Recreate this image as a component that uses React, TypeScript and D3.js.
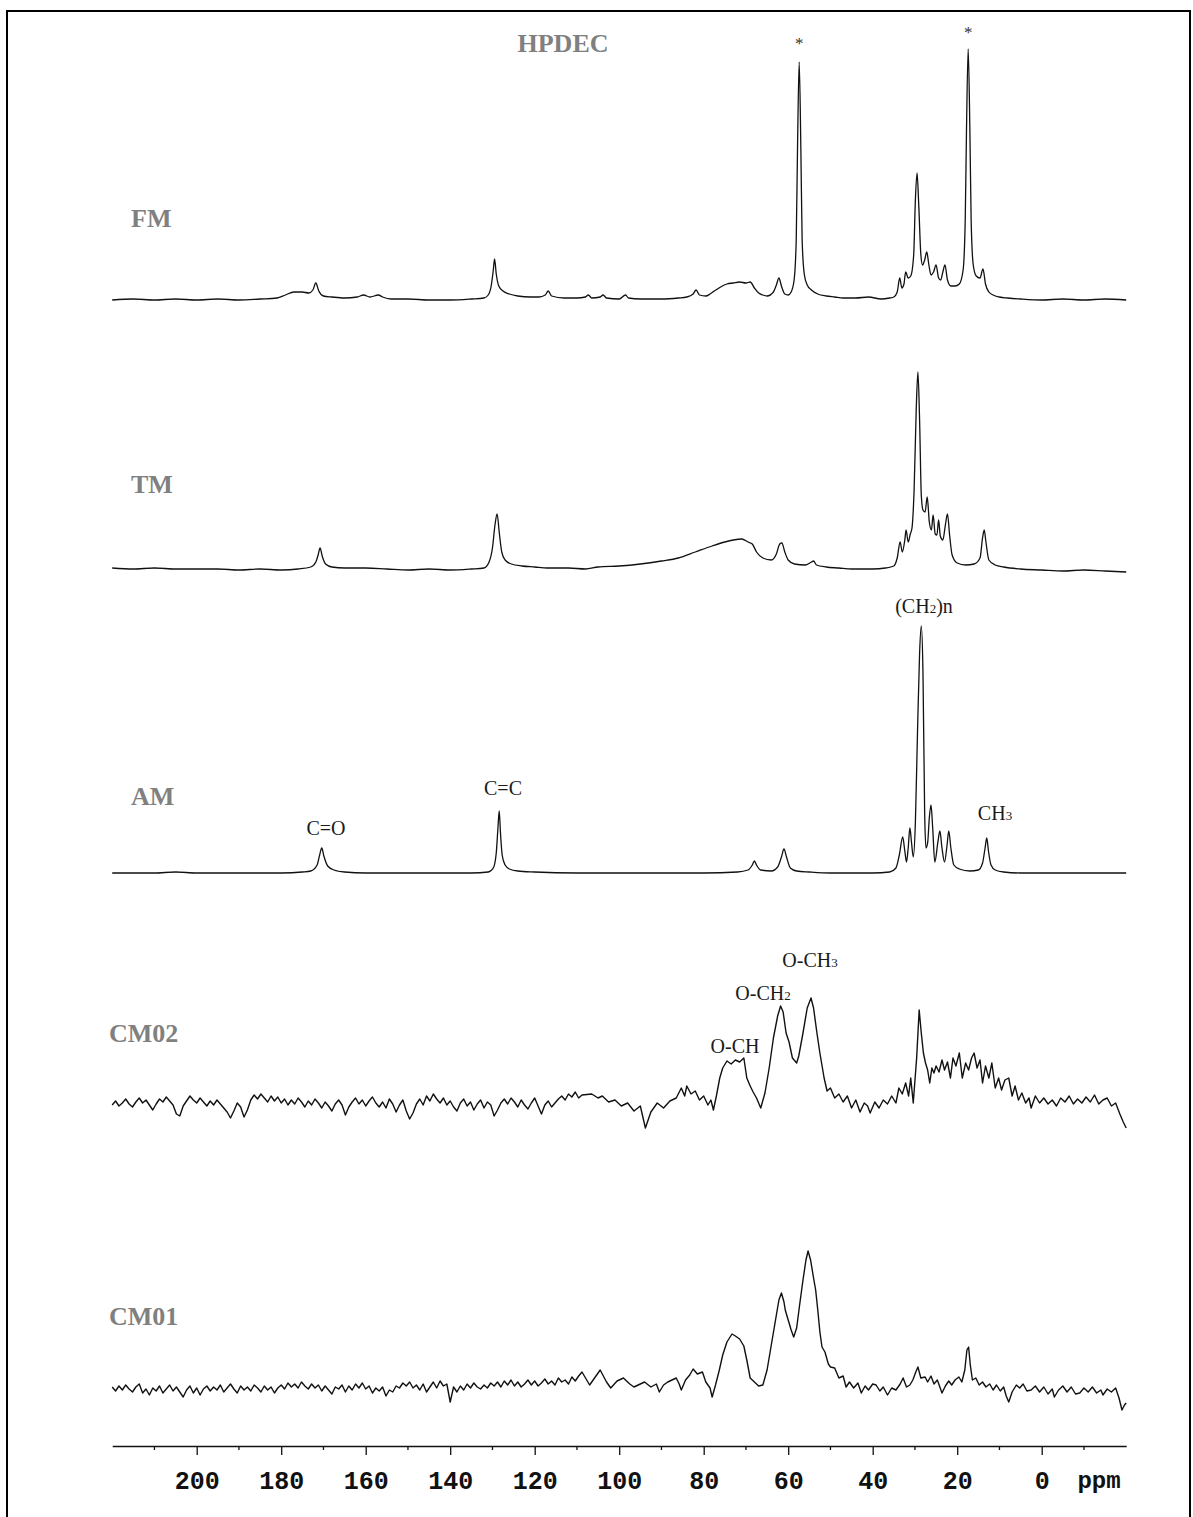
import React, { useEffect, useRef } from 'react';
import * as d3 from 'd3';

// spectra digitised as [ppm, height above the trace's own baseline]
const fmTrace: [number, number][] = [
  [220,0],[215,1],[210,0],[205,1],[200,0],[195,1],[190,0],[185,1],[181,2],[179,5],[177,8],[175,8],[173.5,7],[172.5,10],[171.8,17],[171.1,9],[170,4],[168,3],[165,2],[162,3],[160.5,5],[159,3],[157,5],[156,3],[154,1],[150,1],[145,0],[140,0],[135,1],[132,2],[131,5],[130.3,14],[129.8,30],[129.5,41],[129.1,26],[128.5,14],[127.5,9],[126,6],[124,4],[121,3],[119,3],[117.5,5],[116.8,9],[116,4],[113,2],[110,2],[108,3],[107.3,5],[106.5,2],[104.5,3],[103.8,5],[103,2],[100,1],[98.5,5],[97.8,2],[95,1],[90,1],[86,2],[84,3],[82.5,6],[81.8,10],[81,5],[79.5,4],[78.5,6],[77.5,9],[76,13],[74.5,16],[73,17],[71.5,18],[70,17],[69,18],[68,12],[67,7],[66,5],[65,4],[63.5,8],[62.8,15],[62.2,22],[61.6,14],[60.8,6],[60,5],[59.3,8],[58.6,20],[58.1,60],[57.8,150],[57.4,238],[57.0,150],[56.7,60],[56.2,26],[55.5,15],[54.5,10],[53,6],[51,4],[49,3],[47,2],[44,2],[41,3],[38,1],[36,2],[35,3],[34.2,8],[33.6,22],[33.1,12],[32.6,16],[32.2,28],[31.6,22],[31,24],[30.3,45],[29.9,100],[29.5,127],[29.1,95],[28.6,45],[28.2,35],[27.7,40],[27.2,48],[26.7,35],[26.2,25],[25.6,28],[25,35],[24.4,22],[23.9,20],[23.4,28],[22.9,35],[22.3,20],[21.5,14],[20.5,14],[19.5,16],[18.6,30],[18.1,80],[17.8,170],[17.4,251],[17.0,170],[16.7,80],[16.2,35],[15.5,24],[14.6,22],[13.9,31],[13.3,16],[12.5,8],[11.5,5],[10,3],[8,2],[5,1],[0,0],[-5,1],[-10,0],[-15,1],[-20,0],
];

const tmTrace: [number, number][] = [
  [220,2],[215,1],[210,2],[205,1],[200,1],[195,1],[190,0],[185,1],[180,0],[176,1],[173,3],[171.8,8],[171.2,16],[170.8,22],[170.3,14],[169.5,6],[168,3],[165,2],[160,2],[155,1],[150,0],[145,1],[140,0],[135,1],[132,2],[130.8,8],[130,22],[129.4,45],[128.9,56],[128.4,38],[127.8,18],[127,10],[125.5,6],[123,4],[120,3],[117,2],[112,2],[108,1],[105,3],[100,4],[95,6],[90,9],[86,12],[82,18],[78,24],[75,28],[73,30],[71,31],[69.5,28],[68.5,26],[67.5,18],[66,12],[64,10],[62.8,16],[62,26],[61.5,27],[60.8,18],[60,10],[58.5,6],[56,5],[54.5,8],[54,9],[53.3,5],[51,3],[48,2],[45,1],[40,1],[37,2],[35,4],[34.2,12],[33.5,28],[33,18],[32.4,30],[32.1,40],[31.6,28],[31.1,36],[30.7,42],[30.2,80],[29.7,160],[29.3,198],[28.9,150],[28.5,75],[28.1,60],[27.6,58],[27.1,73],[26.6,48],[26.1,40],[25.7,55],[25.2,36],[24.8,35],[24.4,50],[24,34],[23.4,30],[22.8,45],[22.3,56],[21.8,35],[21.2,15],[20,7],[18,5],[16,6],[14.6,12],[14,32],[13.6,40],[13.2,28],[12.5,10],[11,5],[9,3],[5,1],[0,0],[-5,-1],[-10,0],[-15,-1],[-20,-2],
];

const amTrace: [number, number][] = [
  [220,0],[210,0],[205,1],[200,0],[190,0],[180,0],[175,1],[173,2],[171.5,8],[170.9,18],[170.4,25],[169.9,17],[169,7],[167.5,3],[165,1],[160,0],[150,0],[140,0],[135,0],[131,1],[129.8,5],[129.1,20],[128.7,45],[128.4,62],[128.1,40],[127.7,18],[127,8],[126,4],[124,2],[120,1],[110,0],[100,0],[90,0],[80,0],[72,1],[69.5,3],[68.5,8],[68,12],[67.5,8],[66.5,3],[64,2],[62.5,6],[61.6,16],[61,24],[60.4,16],[59.5,5],[58,2],[55,1],[50,0],[45,0],[40,0],[36,1],[34.5,5],[33.7,18],[32.9,36],[32.4,22],[32,11],[31.6,25],[31.2,45],[30.8,30],[30.4,16],[29.9,50],[29.4,140],[28.9,220],[28.5,247],[28.1,200],[27.7,60],[27.4,25],[27,30],[26.6,55],[26.2,68],[25.8,45],[25.3,11],[24.6,30],[24.1,42],[23.6,25],[23,11],[22.4,28],[22,42],[21.5,25],[20.8,8],[19.5,4],[17,2],[15,3],[14,10],[13.4,25],[13,35],[12.6,22],[12,8],[11,3],[9,1],[5,0],[0,0],[-10,0],[-20,0],
];

// noisy baselines, read every 0.8 ppm from 220 ppm downward
const cm02Baseline = [
  3,7,2,5,9,4,1,6,10,5, 8,3,-2,4,9,6,11,7,3,-6, -8,2,7,12,8,5,10,6,2,7, 3,8,4,0,-4,-10,-3,5,1,-9,
  -2,8,13,9,14,10,6,12,7,11, 5,9,3,8,4,10,6,1,7,3, 9,5,0,6,2,-3,4,8,3,-7, 1,6,10,4,8,2,7,11,5,1,
  6,0,9,4,-4,3,8,-3,-11,-5, 4,9,3,12,7,14,9,5,10,3, 7,1,-3,5,9,2,6,-2,4,8, 0,6,3,-8,-2,5,9,4,10,6,
  1,8,3,-1,5,10,2,-6,3,7, 1,5,9,12,8,14,11,16,10,13,
];

const cm02Peaks: [number, number][] = [
  [106.5,14],[105,10],[104,12],[102.5,6],[101,8],[99.5,2],[98,5],[96.5,-3],[95,2],[93.8,-20],[92.5,-4],[91,5],[89.5,0],[88,7],[86.5,10],[85.3,20],[84.5,12],[84,22],[83,14],[82,17],[81,8],[80,12],[79,3],[78.3,8],[77.7,-2],[77,12],[76.2,30],[75.5,40],[74.5,47],[73.5,44],[72.5,48],[71.5,46],[70.5,50],[69.8,30],[69,22],[68.3,16],[67.5,10],[66.5,0],[65.5,15],[64.5,40],[63.5,70],[62.5,92],[61.8,102],[61.2,96],[60.5,75],[59.8,66],[59,50],[58,45],[57.5,52],[56.5,75],[55.5,100],[54.6,110],[54,100],[53.2,75],[52.5,55],[51.5,30],[50.8,17],[50,20],[49,10],[48,14],[47,6],[46,12],[45,0],[44,8],[43,-4],[42,5],[41.2,2],[40.6,-5],[39.5,6],[38.5,0],[37.5,8],[36.5,4],[35.5,12],[34.5,5],[33.8,20],[33,14],[32.2,25],[31.5,12],[31,30],[30.4,5],[29.6,50],[29,98],[28.5,75],[28,55],[27.5,45],[27,38],[26.5,25],[26,40],[25.5,35],[25,42],[24.3,36],[23.6,48],[23,38],[22.3,46],[21.6,30],[21,50],[20.3,42],[19.5,55],[18.8,30],[18,45],[17.3,38],[16.6,50],[16,55],[15.3,40],[14.6,48],[14,25],[13.3,42],[12.5,30],[11.8,45],[11,20],[10.2,30],[9.5,18],[8.7,28],[7.8,30],[7,12],[6.3,22],[5.5,8],[4.7,15],[3.8,5],[3,10],[2.5,0],[1.5,12],[0.5,5],[-0.5,10],[-1.5,4],[-2.5,8],[-3.5,2],[-4.5,10],[-5.5,6],[-6.5,12],[-7.5,4],[-8.5,9],[-9.5,5],[-10.5,11],[-11.5,6],[-12.5,13],[-13.5,4],[-14.5,8],[-15.5,10],[-16.5,2],[-17.5,5],[-18.5,-6],[-19.3,-14],[-20,-20],
];

const cm01Baseline = [
  3,-1,4,0,5,1,-2,3,6,-3, 1,-5,2,-1,4,-3,1,5,-1,3, -2,-7,0,4,-3,2,-5,1,4,-1, 3,0,5,-2,2,6,1,-3,4,0,
  3,-1,5,2,-2,4,0,3,-3,2, 5,1,7,3,6,2,8,4,1,6, 2,5,-1,4,0,-4,3,1,5,-2, 4,0,6,2,7,1,4,-3,2,-1,
  3,-6,0,-2,4,2,7,4,8,2, 5,0,6,-2,3,8,2,9,4,6, -12,3,-2,4,0,6,2,7,3,1, 5,2,7,4,8,3,9,5,10,4,
  8,3,6,10,5,9,4,7,11,6, 9,5,12,8,10,6,13,9,14,18,
];

const cm01Peaks: [number, number][] = [
  [107,5],[105.5,14],[104.5,20],[103,8],[102,2],[100.5,9],[99,12],[97.5,6],[96.5,3],[95.5,5],[94,8],[92.5,3],[91.2,6],[90.5,-2],[89.5,5],[88.5,8],[87.5,10],[86.5,12],[85.8,6],[85.3,0],[84.3,10],[83.3,15],[82.5,21],[81.5,16],[80.3,18],[79.5,8],[78.5,2],[78,-7],[77.2,5],[76.3,20],[75.5,35],[74.5,48],[73.3,56],[72.5,54],[71.5,51],[70.5,44],[69.8,30],[69,12],[68,8],[67,4],[66,5],[65,20],[64,45],[63,70],[62.2,90],[61.6,97],[61,88],[60.7,80],[60,70],[59.3,60],[58.7,53],[58,62],[57.3,85],[56.5,110],[55.8,130],[55.3,139],[54.7,130],[54,112],[53.5,100],[53,80],[52.5,58],[52,43],[51.3,38],[50.5,26],[50,23],[49,22],[48,12],[47,14],[46.3,3],[45.5,8],[44.5,2],[43.5,7],[42.7,-3],[41.8,4],[41,0],[40,6],[39.2,5],[38.3,-1],[37.5,3],[36.5,-5],[35.5,2],[34.5,0],[33.5,6],[32.8,12],[32,3],[31.2,5],[30.5,10],[29.8,18],[29.3,23],[28.6,12],[27.6,13],[27,8],[26.2,14],[25.5,6],[24.7,10],[23.6,-3],[22.8,4],[22,9],[21.3,5],[20.5,10],[19.6,13],[18.9,8],[18.2,20],[17.7,40],[17.3,43],[16.9,25],[16.4,10],[15.6,12],[14.8,5],[14,8],[13.2,3],[12.3,6],[11.5,0],[10.7,5],[9.8,-1],[9,3],[8.4,-6],[7.8,-12],[7,-2],[6,5],[5.2,2],[4.4,6],[3.5,-1],[2.5,0],[1.5,4],[0.5,-2],[-0.5,3],[-1.5,-4],[-2.5,1],[-3,-7],[-4,0],[-5,4],[-6,-2],[-7,3],[-8,-4],[-9,-3],[-10,2],[-11,-2],[-12,3],[-13,-3],[-14,0],[-14.5,-5],[-15.5,1],[-16.5,-2],[-17.5,2],[-18.3,-8],[-19,-20],[-19.6,-15],[-20,-13],
];

const withBaseline = (base: number[], peaks: [number, number][]): [number, number][] =>
  [...base.map((h, i) => [220 - i * 0.8, h] as [number, number]), ...peaks];

const spectra = [
  { name: 'FM', trace: fmTrace, smooth: true },
  { name: 'TM', trace: tmTrace, smooth: true },
  { name: 'AM', trace: amTrace, smooth: true },
  { name: 'CM02', trace: withBaseline(cm02Baseline, cm02Peaks), smooth: false },
  { name: 'CM01', trace: withBaseline(cm01Baseline, cm01Peaks), smooth: false },
];

const majorTicks = [200, 180, 160, 140, 120, 100, 80, 60, 40, 20, 0];
const minorTicks = [210, 190, 170, 150, 130, 110, 90, 70, 50, 30, 10, -10];

// layout
const W = 1193;
const H = 1517;
const baselines = [300, 570, 873, 1108, 1390];
const labelPos = [
  { x: 131, y: 227 }, { x: 131, y: 493 }, { x: 131, y: 805 },
  { x: 109, y: 1042 }, { x: 109, y: 1325 },
];
const axisY = 1446;

const App = () => {
  const ref = useRef<SVGSVGElement>(null);

  useEffect(() => {
    const svg = d3.select(ref.current);
    svg.selectAll('*').remove();

    const x = d3.scaleLinear().domain([220, -20]).range([112.2, 1126.2]);

    svg.append('rect')
      .attr('width', W).attr('height', H).attr('fill', '#fff');
    svg.append('rect')
      .attr('x', 7).attr('y', 11).attr('width', 1183).attr('height', 1530)
      .attr('fill', 'none').attr('stroke', '#000').attr('stroke-width', 2);

    spectra.forEach((s, i) => {
      const base = baselines[i];
      const y = d3.scaleLinear().domain([0, 100]).range([base, base - 100]);
      const line = d3.line<[number, number]>()
        .x(d => x(d[0]))
        .y(d => y(d[1]))
        .curve(s.smooth ? d3.curveMonotoneX : d3.curveLinear);
      svg.append('path')
        .datum([...s.trace].sort((a, b) => x(a[0]) - x(b[0])))
        .attr('fill', 'none')
        .attr('stroke', '#111')
        .attr('stroke-width', s.smooth ? 1.3 : 1.4)
        .attr('stroke-linejoin', 'round')
        .attr('d', line);

      svg.append('text')
        .attr('x', labelPos[i].x).attr('y', labelPos[i].y)
        .attr('font-family', '"Liberation Serif", "Times New Roman", serif')
        .attr('font-weight', 'bold').attr('font-size', 26)
        .attr('fill', '#808080')
        .text(s.name);
    });

    svg.append('text')
      .attr('x', 563).attr('y', 52).attr('text-anchor', 'middle')
      .attr('font-family', '"Liberation Serif", "Times New Roman", serif')
      .attr('font-weight', 'bold').attr('font-size', 26)
      .attr('fill', '#808080')
      .text('HPDEC');

    // asterisks over the two starred lines
    [[57.4, 49], [17.4, 38]].forEach(([p, yy]) => {
      svg.append('text')
        .attr('x', x(p)).attr('y', yy).attr('text-anchor', 'middle')
        .attr('font-family', '"Liberation Serif", serif').attr('font-size', 17)
        .attr('fill', '#333').text('*');
    });

    // peak annotations
    const ann = [
      { t: 'C=O', x: 326, y: 835 },
      { t: 'C=C', x: 503, y: 795 },
      { t: 'CH', sub: '3', x: 995, y: 820 },
      { t: '(CH', sub: '2', tail: ')n', x: 924, y: 613 },
      { t: 'O-CH', sub: '3', x: 810, y: 967 },
      { t: 'O-CH', sub: '2', x: 763, y: 1000 },
      { t: 'O-CH', x: 735, y: 1053 },
    ];
    ann.forEach(a => {
      const t = svg.append('text')
        .attr('x', a.x).attr('y', a.y).attr('text-anchor', 'middle')
        .attr('font-family', '"Liberation Serif", "Times New Roman", serif')
        .attr('font-size', 20).attr('fill', '#1a1a1a');
      t.append('tspan').text(a.t);
      if (a.sub) t.append('tspan').attr('font-size', 13).text(a.sub);
      if (a.tail) t.append('tspan').text(a.tail);
    });

    // axis
    const g = svg.append('g').attr('transform', `translate(0,${axisY})`);
    g.call(
      d3.axisBottom(x)
        .tickValues(majorTicks)
        .tickSize(9)
        .tickSizeOuter(0)
        .tickPadding(16)
        .tickFormat(d3.format('d'))
    );
    g.select('.domain').attr('stroke', '#111').attr('stroke-width', 1.6);
    g.selectAll('.tick line').attr('stroke', '#111').attr('stroke-width', 1.3);
    g.selectAll('.tick text')
      .attr('font-family', '"Liberation Mono", "Courier New", monospace')
      .attr('font-weight', 'bold').attr('font-size', 25).attr('fill', '#111');
    g.selectAll('.minor')
      .data(minorTicks)
      .join('line')
      .attr('class', 'minor')
      .attr('x1', d => x(d)).attr('x2', d => x(d))
      .attr('y1', 0).attr('y2', 4)
      .attr('stroke', '#111').attr('stroke-width', 1.3);

    svg.append('text')
      .attr('x', 1099).attr('y', 1488).attr('text-anchor', 'middle')
      .attr('font-family', '"Liberation Mono", "Courier New", monospace')
      .attr('font-weight', 'bold').attr('font-size', 24).attr('fill', '#111')
      .text('ppm');
  }, []);

  return (
    <svg ref={ref} width={W} height={H}
      style={{ position: 'absolute', left: 0, top: 0, display: 'block' }} />
  );
};

export default App;
